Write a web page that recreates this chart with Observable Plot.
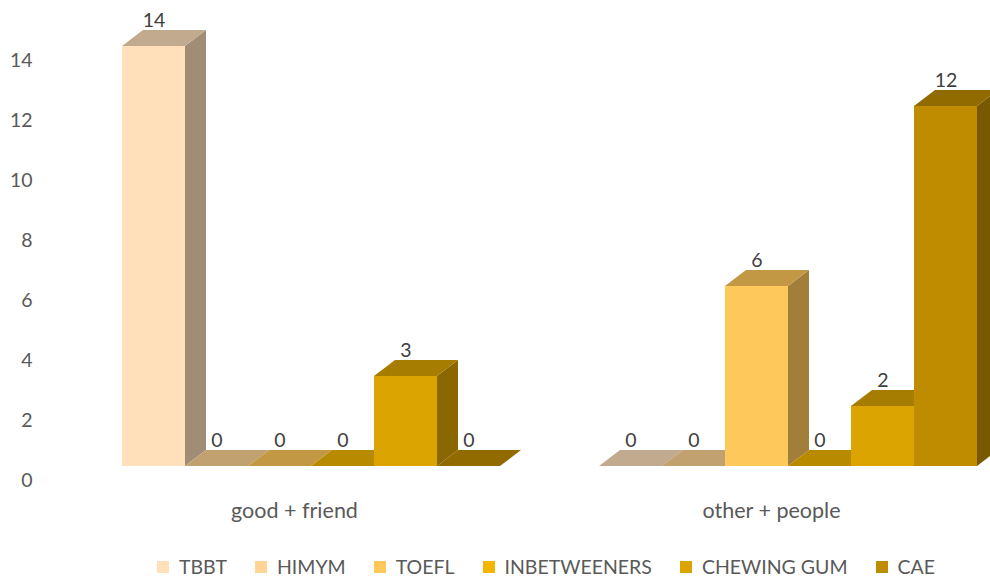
<!DOCTYPE html>
<html>
<head>
<meta charset="utf-8">
<script src="https://cdn.jsdelivr.net/npm/d3@7"></script>
<script src="https://cdn.jsdelivr.net/npm/@observablehq/plot@0.6"></script>
<style>
  html, body { margin: 0; padding: 0; background: #fff; }
  body { width: 990px; height: 578px; font-family: Lato, "Open Sans", sans-serif; }
  #chart svg { display: block; }
  #legend { display: flex; align-items: center; padding-left: 157px; padding-top: 7px; height: 20px; font-size: 19.5px; color: #595959; line-height: 20px; white-space: nowrap; }
  #legend .item { display: flex; align-items: center; margin-right: 28px; height: 20px; }
  #legend .sw { width: 12px; height: 12px; margin-right: 10px; }
</style>
</head>
<body>
<div id="chart"></div>
<div id="legend"></div>
<script>
const categories = ["good + friend", "other + people"];
const series = ["TBBT", "HIMYM", "TOEFL", "INBETWEENERS", "CHEWING GUM", "CAE"];
const colors = ["#FFE0BB", "#FFD495", "#FFC85A", "#F2B500", "#DBA400", "#BF8C00"];
const goodFriend = [14, 0, 0, 0, 3, 0];
const otherPeople = [0, 0, 6, 0, 2, 12];
const yTicks = [0, 2, 4, 6, 8, 10, 12, 14];

const values = [goodFriend, otherPeople];
const data = [];
categories.forEach((c, ci) => series.forEach((s, si) => data.push({category: c, series: s, value: values[ci][si]})));

const DX = 21, DY = -16;
function shade(c, k) {
  const r = d3.rgb(c);
  return d3.rgb(r.r * k, r.g * k, r.b * k).formatHex();
}

const bars = Plot.barY(data, {
  fx: "category", x: "series", y: "value", fill: "series",
  render(index, scales, vals) {
    const g = d3.create("svg:g");
    const bw = scales.x.bandwidth();
    for (const i of index) {
      const d = data[i];
      const xl = scales.x(d.series);
      const xr = xl + bw;
      const yb = scales.y(0);
      const yt = scales.y(d.value);
      const col = vals.fill ? vals.fill[i] : colors[series.indexOf(d.series)];
      if (yb - yt > 0.01) {
        g.append("rect").attr("x", xl).attr("y", yt).attr("width", bw).attr("height", yb - yt).attr("fill", col);
      }
      g.append("polygon")
        .attr("points", [[xr, yt], [xr + DX, yt + DY], [xr + DX, yb + DY], [xr, yb]].map(p => p.join(",")).join(" "))
        .attr("fill", shade(col, 0.63));
      g.append("polygon")
        .attr("points", [[xl, yt], [xr, yt], [xr + DX, yt + DY], [xl + DX, yt + DY]].map(p => p.join(",")).join(" "))
        .attr("fill", shade(col, 0.76));
    }
    return g.node();
  }
});

const plot = Plot.plot({
  width: 990,
  height: 550,
  marginLeft: 120,
  marginRight: 10.5,
  marginTop: 46,
  marginBottom: 84,
  style: {fontFamily: "Lato, 'Open Sans', sans-serif", background: "#fff"},
  fx: {domain: categories, paddingInner: 0.2, paddingOuter: 0, axis: null},
  x: {domain: series, padding: 0, axis: null},
  y: {domain: [0, 14], axis: null},
  color: {domain: series, range: colors},
  marks: [
    bars,
    Plot.text(data, {fx: "category", x: "series", y: "value", text: d => String(d.value), dy: -26, fontSize: 19.5, fill: "#404040"}),
    Plot.axisY({ticks: yTicks, tickSize: 0, dx: -79, dy: 14, fontSize: 19.5, fill: "#595959", label: null, tickFormat: d => String(d)}),
    Plot.axisFx({anchor: "bottom", tickSize: 0, dx: -17, dy: 27, fontSize: 21.5, fill: "#595959", label: null})
  ]
});
document.getElementById("chart").appendChild(plot);

const legend = d3.select("#legend");
series.forEach((s, i) => {
  const item = legend.append("div").attr("class", "item");
  item.append("div").attr("class", "sw").style("background", colors[i]);
  item.append("span").text(s);
});
</script>
</body>
</html>
